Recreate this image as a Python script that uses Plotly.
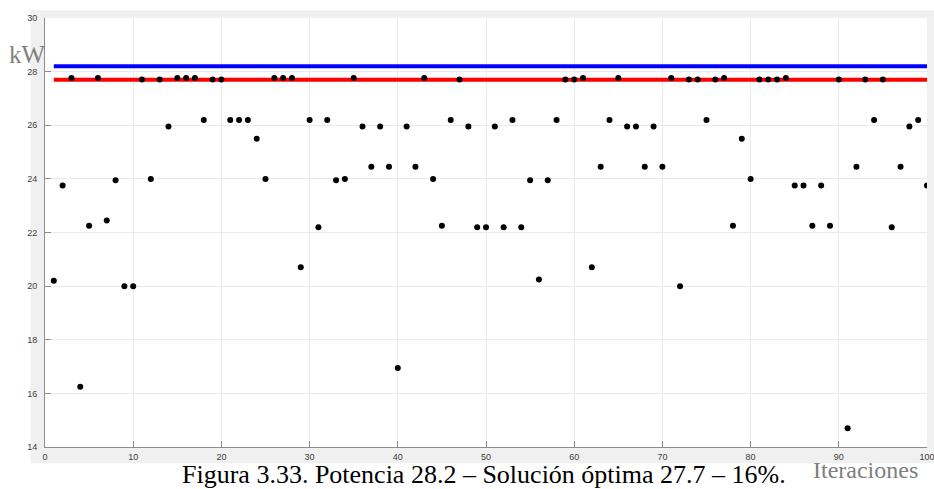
import plotly.graph_objects as go

# Iteration number and power obtained at each iteration (kW)
iteraciones = list(range(1, 101))
potencia_iter = [
    20.2, 23.75, 27.76, 16.25, 22.25, 27.76, 22.45, 23.95, 20.0, 20.0,
    27.71, 24.0, 27.71, 25.95, 27.76, 27.76, 27.76, 26.2, 27.71, 27.71,
    26.2, 26.2, 26.2, 25.5, 24.0, 27.76, 27.76, 27.76, 20.7, 26.2,
    22.2, 26.2, 23.95, 24.0, 27.76, 25.95, 24.45, 25.95, 24.45, 16.95,
    25.95, 24.45, 27.76, 24.0, 22.25, 26.2, 27.71, 25.95, 22.2, 22.2,
    25.95, 22.2, 26.2, 22.2, 23.95, 20.25, 23.95, 26.2, 27.71, 27.71,
    27.76, 20.7, 24.45, 26.2, 27.76, 25.95, 25.95, 24.45, 25.95, 24.45,
    27.76, 20.0, 27.71, 27.71, 26.2, 27.71, 27.76, 22.25, 25.5, 24.0,
    27.71, 27.71, 27.71, 27.76, 23.75, 23.75, 22.25, 23.75, 22.25, 27.71,
    14.7, 24.45, 27.71, 26.2, 27.71, 22.2, 24.45, 25.95, 26.2, 23.75,
]

# Reference levels (kW)
potencia_nominal = 28.2
solucion_optima = 27.7

x_ticks = list(range(0, 101, 10))
y_ticks = list(range(14, 31, 2))

# Plot area in pixels (page 934 x 489)
L, R, T, B = 44.5, 7.3, 17.7, 42.3
W, H = 934, 489
pw, ph = W - L - R, H - T - B


def px_x(x):
    return (x - L) / pw


def px_y(y):
    return (H - B - y) / ph


fig = go.Figure()

fig.add_trace(go.Scatter(
    x=iteraciones, y=[potencia_nominal] * len(iteraciones),
    mode="lines", line=dict(color="#0000ff", width=4),
    hoverinfo="skip", showlegend=False,
))
fig.add_trace(go.Scatter(
    x=iteraciones, y=[solucion_optima] * len(iteraciones),
    mode="lines", line=dict(color="#ff0000", width=4),
    hoverinfo="skip", showlegend=False,
))
fig.add_trace(go.Scatter(
    x=iteraciones, y=potencia_iter,
    mode="markers", marker=dict(color="#000000", size=6, line=dict(width=0)),
    showlegend=False,
))

axis_common = dict(
    showgrid=True, gridcolor="#ebebeb", gridwidth=1,
    showline=True, linecolor="#8c8c8c", linewidth=1,
    ticks="inside", ticklen=6, tickcolor="#8c8c8c",
    tickfont=dict(family="Liberation Sans, Arial", size=9, color="#404040"),
    ticklabeloverflow="allow", automargin=False,
    zeroline=False, mirror=False,
)

fig.update_xaxes(range=[0, 100], tickvals=x_ticks, ticklabelstandoff=1, **axis_common)
fig.update_yaxes(range=[14, 30], tickvals=y_ticks, ticklabelstandoff=5, **axis_common)

fig.update_layout(
    width=W, height=H,
    margin=dict(l=L, r=R, t=T, b=B, pad=0, autoexpand=False),
    paper_bgcolor="#ffffff", plot_bgcolor="#ffffff",
    shapes=[
        dict(type="rect", xref="paper", yref="paper", layer="below",
             x0=px_x(30), x1=px_x(934), y0=px_y(463), y1=px_y(10),
             fillcolor="#f0f0f0", line=dict(width=0)),
        dict(type="rect", xref="paper", yref="paper", layer="below",
             x0=0, x1=1, y0=0, y1=1,
             fillcolor="#ffffff", line=dict(width=0)),
    ],
    annotations=[
        dict(text="kW", xref="paper", yref="paper", x=px_x(26.5), y=px_y(54),
             xanchor="center", yanchor="middle", showarrow=False,
             font=dict(family="Liberation Serif, Times New Roman", size=25, color="#7f7f7f")),
        dict(text="Iteraciones", xref="paper", yref="paper", x=px_x(865.5), y=px_y(470),
             xanchor="center", yanchor="middle", showarrow=False,
             font=dict(family="Liberation Serif, Times New Roman", size=24, color="#7f7f7f")),
        dict(text="Figura 3.33. Potencia 28.2 – Solución óptima 27.7 – 16%.",
             xref="paper", yref="paper", x=px_x(484), y=px_y(474.5),
             xanchor="center", yanchor="middle", showarrow=False,
             font=dict(family="Liberation Serif, Times New Roman", size=26, color="#000000")),
    ],
)

fig.write_html("out.html")
